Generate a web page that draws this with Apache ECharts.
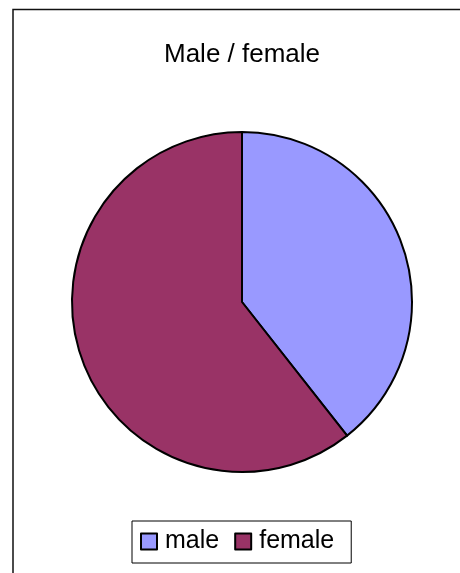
<!DOCTYPE html>
<html>
<head>
<meta charset="utf-8">
<script src="https://cdn.jsdelivr.net/npm/echarts@6/dist/echarts.min.js"></script>
<style>
html,body{margin:0;padding:0;background:#fff;}
#chart{width:460px;height:573px;}
</style>
</head>
<body>
<div id="chart"></div>
<script>
const titleText = "Male / female";
const categories = ["male", "female"];
const values = [13, 20];
const colors = ["#9999FF", "#993366"];

const chart = echarts.init(document.getElementById('chart'), null, {renderer: 'canvas'});
chart.setOption({
  animation: false,
  backgroundColor: '#fff',
  graphic: [{
    type: 'rect',
    shape: {x: 13, y: 9.5, width: 600, height: 700},
    style: {fill: 'none', stroke: '#111', lineWidth: 1.5},
    silent: true
  }],
  title: {
    text: titleText,
    left: 164,
    top: 42,
    padding: 0,
    textStyle: {fontFamily: 'Liberation Sans', fontSize: 26, fontWeight: 'normal', color: '#000'}
  },
  legend: {
    data: categories,
    left: 132,
    top: 521,
    orient: 'horizontal',
    icon: 'rect',
    itemWidth: 16,
    itemHeight: 16,
    itemGap: 15,
    padding: [8, 17, 9, 8],
    borderColor: '#000',
    borderWidth: 1,
    itemStyle: {borderColor: '#000', borderWidth: 2},
    textStyle: {fontFamily: 'Liberation Sans', fontSize: 25, color: '#000', padding: [0, 0, 0, 3]}
  },
  series: [{
    type: 'pie',
    center: [242, 302],
    radius: 170,
    startAngle: 90,
    clockwise: true,
    label: {show: false},
    labelLine: {show: false},
    emphasis: {disabled: true},
    itemStyle: {borderColor: '#000', borderWidth: 2},
    data: categories.map((c, i) => ({name: c, value: values[i], itemStyle: {color: colors[i]}}))
  }]
});
</script>
</body>
</html>
